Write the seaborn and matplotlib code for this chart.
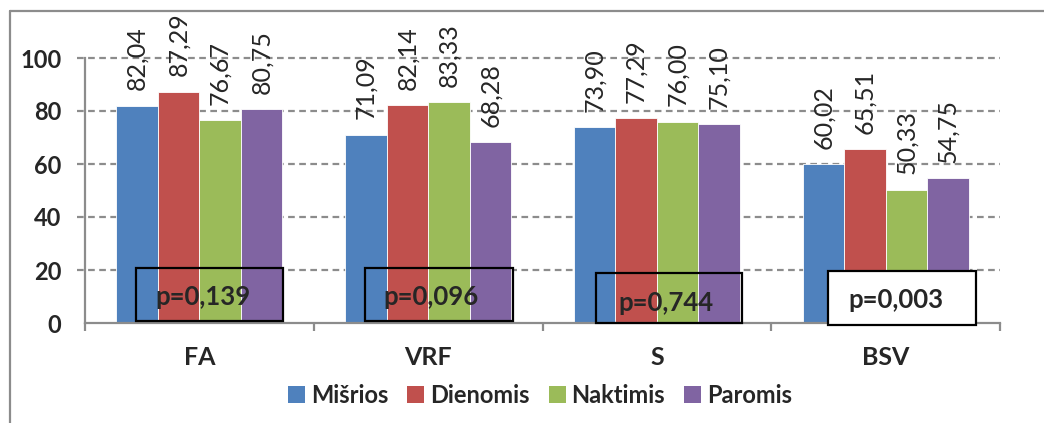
import matplotlib
matplotlib.use("Agg")
import matplotlib.pyplot as plt
from matplotlib.lines import Line2D
from matplotlib.patches import Rectangle
import seaborn as sns
import pandas as pd

# Data
categories = ["FA", "VRF", "S", "BSV"]
groups = ["Mišrios", "Dienomis", "Naktimis", "Paromis"]
misrios = [82.04, 71.09, 73.90, 60.02]
dienomis = [87.29, 82.14, 77.29, 65.51]
naktimis = [76.67, 83.33, 76.00, 50.33]
paromis = [80.75, 68.28, 75.10, 54.75]
p_values = ["p=0,139", "p=0,096", "p=0,744", "p=0,003"]
y_ticks = [0, 20, 40, 60, 80, 100]

palette = ["#4F81BD", "#C0504D", "#9BBB59", "#8064A2"]

sns.set_theme(style="white")
plt.rcParams["font.family"] = ["Lato", "DejaVu Sans"]

rows = []
for g, vals in zip(groups, [misrios, dienomis, naktimis, paromis]):
    for c, v in zip(categories, vals):
        rows.append({"cat": c, "grp": g, "val": v})
df = pd.DataFrame(rows)

W, H = 1044, 423
fig = plt.figure(figsize=(W / 100, H / 100), dpi=100)
ax = fig.add_axes([85 / W, 1 - 323 / H, 915 / W, 265 / H])

sns.barplot(data=df, x="cat", y="val", hue="grp", order=categories,
            hue_order=groups, palette=palette, width=0.725, ax=ax,
            saturation=1, edgecolor="#ffffff", linewidth=0.6, legend=False,
            errorbar=None, zorder=2)

ax.set_xlim(-0.5, 3.5)
ax.set_ylim(0, 100)
ax.set_yticks(y_ticks)
ax.set_yticklabels([str(t) for t in y_ticks], fontsize=17, fontweight="bold")
ax.set_xlabel("")
ax.set_ylabel("")

# dashed horizontal grid
for t in y_ticks[1:]:
    ax.plot([-0.535, 3.5], [t, t], color="#8c8c8c", lw=1.6,
            ls=(0, (3, 2)), clip_on=False, zorder=1)

for s in ["top", "right"]:
    ax.spines[s].set_visible(False)
for s in ["left", "bottom"]:
    ax.spines[s].set_color("#8c8c8c")
    ax.spines[s].set_linewidth(1.6)

# category labels centred, tick marks on the boundaries
ax.set_xticks([-0.5, 0.5, 1.5, 2.5, 3.5])
ax.set_xticklabels([])
ax.tick_params(axis="x", direction="out", length=6, width=1.6,
               color="#8c8c8c", bottom=True)
ax.tick_params(axis="y", direction="out", length=0, pad=17)
for i, c in enumerate(categories):
    ax.text(i, -13, c, ha="center", va="center", fontsize=18,
            fontweight="bold", transform=ax.transData)

# value labels above bars
for cont in ax.containers:
    for bar in cont:
        h = bar.get_height()
        ax.annotate(f"{h:.2f}".replace(".", ","),
                    (bar.get_x() + bar.get_width() / 2, h),
                    xytext=(0, 11), textcoords="offset points",
                    rotation=90, ha="center", va="bottom", fontsize=18,
                    annotation_clip=False)

# boxes with p-values
box_layout = [
    (-0.277, 0.365, 0.75, 20.75, "none"),
    (0.723, 1.369, 0.75, 20.75, "none"),
    (1.736, 2.373, 0.0, 18.9, "none"),
    (2.749, 3.395, -0.75, 19.6, "white"),
]
text_pos = [(0.015, 9.8), (1.013, 9.8), (2.04, 7.5), (3.044, 8.7)]
for (x0, x1, y0, y1, fc), (tx, ty), p in zip(box_layout, text_pos, p_values):
    ax.add_patch(Rectangle((x0, y0), x1 - x0, y1 - y0, facecolor=fc,
                           edgecolor="black", lw=1.6, zorder=5,
                           clip_on=False))
    ax.text(tx, ty, p, ha="center", va="center", fontsize=18.5,
            fontweight="bold", zorder=6)

# legend
handles = [Rectangle((0, 0), 1, 1, facecolor=c, edgecolor="none")
           for c in palette]
fig.legend(handles, groups, loc="center", bbox_to_anchor=(540 / W, 1 - 395 / H),
           ncol=4, frameon=False, handlelength=0.72, handleheight=0.72,
           handletextpad=0.25, columnspacing=0.8,
           prop={"size": 17, "weight": "bold"})

# chart frame (left and top edges)
fig.add_artist(Line2D([10 / W, 10 / W], [0, 1 - 11 / H], color="#8c8c8c",
                      lw=1.6, transform=fig.transFigure))
fig.add_artist(Line2D([10 / W, 1], [1 - 11 / H, 1 - 11 / H], color="#8c8c8c",
                      lw=1.6, transform=fig.transFigure))

fig.savefig("out.png", dpi=100, facecolor="white")
